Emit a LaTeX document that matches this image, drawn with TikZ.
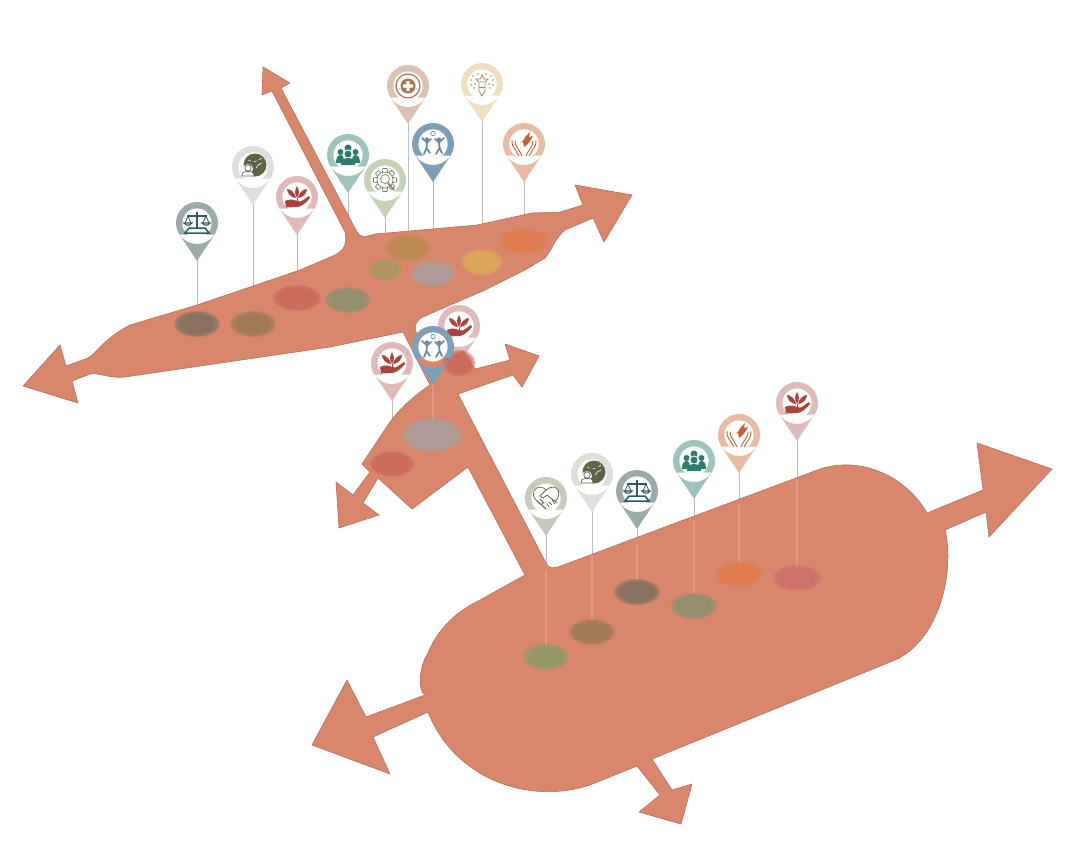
\documentclass[tikz,border=0pt]{standalone}
\usetikzlibrary{calc}
\definecolor{bodyc}{HTML}{D8876C}
\definecolor{edgec}{HTML}{B5705B}
\definecolor{stemc}{HTML}{BDBDBD}
\definecolor{pscale}{HTML}{9AABA9}
\definecolor{pglobe}{HTML}{DEDFDA}
\definecolor{pplant}{HTML}{E0B9BA}
\definecolor{ppeople}{HTML}{9DC5BD}
\definecolor{pgear}{HTML}{C4D3B8}
\definecolor{pmed}{HTML}{DDC2B4}
\definecolor{pkids}{HTML}{7F9FB7}
\definecolor{plight}{HTML}{EBE1C0}
\definecolor{pdove}{HTML}{E9BBA3}
\definecolor{phand}{HTML}{CACABA}
\definecolor{iscale}{HTML}{2F5B5E}
\definecolor{iglobe}{HTML}{5F6546}
\definecolor{iplant}{HTML}{A9453F}
\definecolor{ipeople}{HTML}{2E7D6C}
\definecolor{igear}{HTML}{77805F}
\definecolor{imed}{HTML}{AC7350}
\definecolor{ikids}{HTML}{6C8DA8}
\definecolor{ilight}{HTML}{A88A52}
\definecolor{idove}{HTML}{BF6238}
\definecolor{ihand}{HTML}{66664F}
\definecolor{sgrey}{HTML}{7F6F62}
\definecolor{sbrown}{HTML}{9A7955}
\definecolor{sred}{HTML}{CB675A}
\definecolor{ssage}{HTML}{89906F}
\definecolor{solive}{HTML}{A99A5E}
\definecolor{sochre}{HTML}{BD8A52}
\definecolor{sblue}{HTML}{A99E9E}
\definecolor{syellow}{HTML}{DBAC58}
\definecolor{sorange}{HTML}{E27C4C}
\definecolor{sgreen}{HTML}{8C9A69}
\definecolor{srose}{HTML}{CE6E6B}
\newcommand{\stemline}[3]{\draw[stemc,line width=1pt] (#1,#2) -- (#1,#3);}
\newcommand{\faintline}[3]{\draw[white,opacity=.16,line width=1.6pt] (#1,#2) -- (#1,#3);}
\newcommand{\softspot}[5]{%
  \fill[#5,opacity=.38] (#1,#2) ellipse[x radius=#3*1.1,y radius=#4*1.1];
  \fill[#5,opacity=.5] (#1,#2) ellipse[x radius=#3,y radius=#4];
  \fill[#5,opacity=.6] (#1,#2) ellipse[x radius=#3*.85,y radius=#4*.85];}
\newcommand{\pinmark}[4]{%
  \begin{scope}[shift={(#1,#2)}]
    \fill[#3] (0,38) -- (17.5,11.6) -- (-17.5,11.6) -- cycle (0,0) circle[radius=21];
    \fill[white] (0,0) circle[radius=14.6];
    #4
  \end{scope}}
\newcommand{\icoscale}{%
  \begin{scope}[iscale,line width=1.3pt]
    \draw (0,-11) -- (0,6);
    \draw (-10,-7) -- (10,-7);
    \draw[line width=.8pt] (-9,-7) -- (-12,0) (-9,-7) -- (-6,0) (9,-7) -- (12,0) (9,-7) -- (6,0);
    \draw[line width=1.1pt] (-13,0) .. controls (-11,3) and (-7,3) .. (-5,0) -- cycle;
    \draw[line width=1.1pt] (13,0) .. controls (11,3) and (7,3) .. (5,0) -- cycle;
    \draw[line width=1.5pt] (-8,5) -- (8,5) -- (12,10) -- (-12,10) -- cycle;
  \end{scope}}
\newcommand{\icoglobe}{%
  \fill[iglobe] (2,-2) circle[radius=11.5];
  \draw[white,line width=.5pt,dashed] (-5,-7) .. controls (0,-3) and (6,-7) .. (9,-9);
  \draw[white,line width=.6pt] (3,1) .. controls (4,-2) and (7,-3) .. (9,-4);
  \fill[white] (-5,2) circle[radius=5];
  \draw[iglobe,line width=.7pt,fill=white] (-5,1) circle[radius=3.2];
  \draw[iglobe,line width=.7pt,fill=white] (-11,9) .. controls (-11,5) and (-9,4.5) .. (-5,4.5)
     .. controls (-1,4.5) and (1,5) .. (1,9) -- cycle;}
\newcommand{\icoplant}{%
  \begin{scope}[iplant]
    \fill (0,1) .. controls (-3,-3) and (-2,-8) .. (0,-11) .. controls (2,-8) and (3,-3) .. (0,1);
    \fill (-1,1) .. controls (-6,1) and (-10,-4) .. (-10,-8) .. controls (-6,-8) and (-2,-4) .. (-1,1);
    \fill (1,1) .. controls (6,1) and (10,-4) .. (10,-8) .. controls (6,-8) and (2,-4) .. (1,1);
    \draw[line width=.7pt] (0,1) -- (0,4);
    \fill (-12,4) .. controls (-8,2) and (-4,2) .. (0,4) -- (4,4.5) -- (12,-1) -- (13,1)
       .. controls (9,6) and (5,9) .. (1,10) -- (-11,10.5) -- cycle;
  \end{scope}}
\newcommand{\icopeople}{%
  \begin{scope}[ipeople]
    \fill (-7.5,-3) circle[radius=3];
    \fill (7.5,-3) circle[radius=3];
    \fill (-12,8) .. controls (-12,2) and (-10,0) .. (-7,0) .. controls (-5,0) and (-4,1) .. (-4,8) -- cycle;
    \fill (12,8) .. controls (12,2) and (10,0) .. (7,0) .. controls (5,0) and (4,1) .. (4,8) -- cycle;
    \fill (0,-7) circle[radius=3.5];
    \fill[white] (0,0) circle[radius=5.5];
    \fill (0,-1) circle[radius=3.5];
    \fill (-7,10) .. controls (-7,5) and (-4,3) .. (0,3) .. controls (4,3) and (7,5) .. (7,10) -- cycle;
  \end{scope}}
\newcommand{\icogear}{%
  \begin{scope}[igear,line width=.7pt]
    \draw (0,0) circle[radius=8];
    \foreach \a in {0,45,...,315}{
      \draw[rotate=\a] (-2.6,-8) -- (-2,-11.5) -- (2,-11.5) -- (2.6,-8);}
    \draw (0,-1) circle[radius=4.5];
    \draw[line width=1.5pt] (3,3) -- (9,10);
  \end{scope}}
\newcommand{\icomed}{%
  \begin{scope}[imed]
    \draw[line width=1.2pt] (0,0) circle[radius=12];
    \fill (0,0) circle[radius=7.5];
    \fill[white] (-1.6,-5) rectangle (1.6,5) (-5,-1.6) rectangle (5,1.6);
  \end{scope}}
\newcommand{\icokids}{%
  \begin{scope}[ikids]
    \draw[line width=.7pt] (0,-10.5) circle[radius=2.2];
    \fill (-6,-4.5) circle[radius=2.2];
    \fill (6,-4.5) circle[radius=2.2];
    \draw[line width=1.8pt,line cap=round] (-6,-2) -- (-6.5,4) (-6.5,4) -- (-9,10) (-6.5,4) -- (-3,9)
       (-11,-6) -- (-6,-1.5) -- (-2,-5);
    \draw[line width=1.8pt,line cap=round] (6,-2) -- (6.5,4) (6.5,4) -- (3,10) (6.5,4) -- (9,9)
       (11,-6) -- (6,-1.5) -- (2,-5);
  \end{scope}}
\newcommand{\icolight}{%
  \begin{scope}[ilight]
    \draw[line width=.8pt] (-3,-1) -- (-3,7) -- (0,12) -- (3,7) -- (3,-1);
    \draw[line width=.8pt] (-3,3) -- (3,3);
    \draw[line width=.8pt] (0,-9) -- (2,-5) -- (6,-5) -- (3,-2) -- (-3,-2) -- (-6,-5) -- (-2,-5) -- cycle;
    \foreach \p in {(-11,-4),(-9,-8),(-7,0),(-11,1),(11,-4),(9,-8),(7,0),(11,1),(-4,-10),(4,-10),(-8,4),(8,4)}{
      \fill \p circle[radius=.9];}
  \end{scope}}
\newcommand{\icodove}{%
  \begin{scope}[idove]
    \fill (-7,-2) .. controls (-3,-1) and (0,-3) .. (1,-7) -- (6,-12) -- (5,-7) -- (9,-8)
       .. controls (6,-2) and (3,1) .. (0,3) -- (-1,-2) -- cycle;
    \draw[line width=.9pt] (-12,-4) .. controls (-13,2) and (-8,6) .. (-5,12)
       (-9,-3) .. controls (-9,2) and (-5,5) .. (-2,12);
    \draw[line width=.9pt] (12,-4) .. controls (13,2) and (8,6) .. (5,12)
       (9,-3) .. controls (9,2) and (5,5) .. (2,12);
  \end{scope}}
\newcommand{\icohand}{%
  \begin{scope}[ihand,line width=.8pt]
    \draw (0,11) -- (-11,1) .. controls (-15,-5) and (-11,-11) .. (-6,-11)
       .. controls (-3,-11) and (-1,-9) .. (0,-8) .. controls (1,-9) and (4,-11) .. (7,-11)
       .. controls (12,-11) and (15,-5) .. (11,1) -- (9,3);
    \draw (0,-8) -- (-6,-2) -- (-3,0) -- (1,-3) -- (11,5);
    \draw (-9,3) -- (-6,6) (-6,1) -- (-3,4) (-3,8) -- (0,11) (-5,7) -- (-2,4);
    \draw (6,2) -- (9,6) (3,4) -- (6,7) (1,6) -- (3,9);
  \end{scope}}
\begin{document}
\begin{tikzpicture}[x=1pt,y=-1pt]
\useasboundingbox (0,0) rectangle (1082,855);
\fill[white] (0,0) rectangle (1082,855);
% stems, seen on the white ground
\stemline{197}{250}{310}
\stemline{253}{195}{290}
\stemline{297}{225}{275}
\stemline{348}{185}{240}
\stemline{385}{210}{240}
\stemline{408}{115}{240}
\stemline{433}{175}{240}
\stemline{482}{115}{230}
\stemline{524}{175}{220}
\stemline{392}{395}{425}
\stemline{546}{530}{570}
\stemline{592}{505}{555}
\stemline{637}{520}{545}
\stemline{694}{490}{520}
\stemline{739}{465}{505}
\stemline{797}{435}{480}
% pin that passes behind the middle shape
\pinmark{459}{326}{pplant}{\icoplant}
% the branching body
\fill[bodyc,draw=edgec,line width=.6pt,line join=round] (345,232) -- (272,91) -- (262,95) -- (263,67) -- (290,83) -- (281,88)
  -- (357,232) .. controls (360,238) and (365,237) .. (375,234) -- (387,233) -- (477,225)
  -- (532,213) -- (560,212) -- (583,205) -- (575,185) -- (632,195) -- (604,242) -- (593,218)
  -- (565,230) .. controls (555,238) and (552,250) .. (545,258)
  -- (525,270) -- (485,290) -- (425,316) .. controls (416,320) and (414,325) .. (416,332)
  -- (436,360) -- (453,357) -- (463,351) -- (475,369) -- (510,360) -- (505,344) -- (539,356)
  -- (522,387) -- (513,375) -- (458,394) -- (546,563) .. controls (549,569) and (552,568) .. (558,567)
  -- (820,469) .. controls (860,456) and (905,475) .. (927,513) -- (983,490) -- (977,443)
  -- (1052,469) -- (989,537) -- (986,512) -- (945,530)
  .. controls (955,570) and (940,640) .. (895,660)
  -- (652,759) -- (672,790) -- (692,784) -- (681,824) -- (639,812) -- (660,795) -- (637,766)
  -- (590,785) .. controls (530,805) and (455,780) .. (428,712)
  -- (373,737) -- (390,774) -- (312,745) -- (347,680) -- (366,717) -- (425,695)
  .. controls (417,690) and (420,665) .. (427,655)
  .. controls (437,630) and (455,612) .. (480,600)
  -- (525,575) -- (468,467) -- (412,509) -- (378,478) -- (363,503) -- (379,515)
  -- (339,528) -- (336,482) -- (353,495) -- (370,472) -- (362,464) -- (390,422)
  .. controls (398,411) and (412,397) .. (430,385) -- (403,332) -- (330,347) -- (125,377)
  .. controls (110,379) and (98,372) .. (90,374) -- (72,381) -- (78,403) -- (23,386) -- (60,345)
  -- (66,366) -- (88,358) .. controls (98,352) and (102,340) .. (130,325)
  -- (197,305) -- (300,270) -- (335,255) .. controls (348,248) and (346,240) .. (345,232) -- cycle;
% stems, faint across the body
\faintline{546}{570}{645}
\faintline{592}{555}{620}
\faintline{637}{545}{582}
\faintline{694}{520}{595}
\faintline{739}{505}{565}
\faintline{797}{480}{568}
\faintline{433}{385}{420}
% soft spots
\softspot{197}{324}{21}{12}{sgrey}
\softspot{253}{324}{21}{12}{sbrown}
\softspot{297}{298}{22}{12}{sred}
\softspot{348}{300}{21}{12}{ssage}
\softspot{385}{270}{16}{10}{solive}
\softspot{408}{248}{21}{13}{sochre}
\softspot{433}{274}{21}{12}{sblue}
\softspot{482}{262}{19}{12}{syellow}
\softspot{524}{241}{22}{12}{sorange}
\softspot{392}{464}{20}{12}{sred}
\softspot{459}{363}{15}{12}{sred}
\softspot{432}{435}{28}{16}{sblue}
\softspot{546}{657}{21}{12}{sgreen}
\softspot{592}{632}{21}{12}{sbrown}
\softspot{637}{592}{21}{12}{sgrey}
\softspot{694}{606}{21}{12}{ssage}
\softspot{739}{574}{22}{12}{sorange}
\softspot{797}{578}{22}{12}{srose}
% pins
\pinmark{197}{223}{pscale}{\icoscale}
\pinmark{253}{167}{pglobe}{\icoglobe}
\pinmark{297}{197}{pplant}{\icoplant}
\pinmark{348}{155}{ppeople}{\icopeople}
\pinmark{385}{180}{pgear}{\icogear}
\pinmark{408}{86}{pmed}{\icomed}
\pinmark{433}{144}{pkids}{\icokids}
\pinmark{482}{84}{plight}{\icolight}
\pinmark{524}{144}{pdove}{\icodove}
\pinmark{392}{363}{pplant}{\icoplant}
\pinmark{433}{347}{pkids}{\icokids}
\pinmark{546}{498}{phand}{\icohand}
\pinmark{592}{474}{pglobe}{\icoglobe}
\pinmark{637}{491}{pscale}{\icoscale}
\pinmark{694}{461}{ppeople}{\icopeople}
\pinmark{739}{435}{pdove}{\icodove}
\pinmark{797}{403}{pplant}{\icoplant}
\end{tikzpicture}
\end{document}
